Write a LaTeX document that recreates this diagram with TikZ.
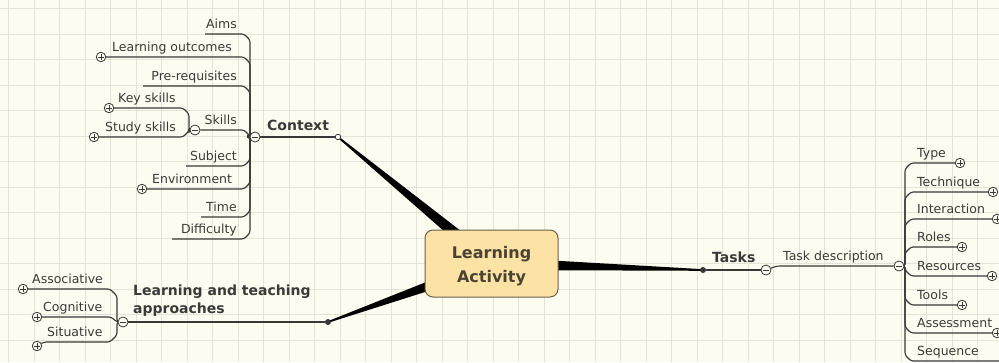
\documentclass[tikz,border=0pt]{standalone}
\usepackage{fontspec}
\setmainfont{DejaVu Sans}
\usetikzlibrary{calc}
\pgfdeclarelayer{back}
\pgfsetlayers{back,main}
\definecolor{bg}{HTML}{FCFCF0}
\definecolor{gridc}{HTML}{E4E4D6}
\definecolor{lc}{HTML}{383838}
\definecolor{tc}{HTML}{3A3A3A}
\definecolor{boxfill}{HTML}{FCE2A5}
\definecolor{boxdraw}{HTML}{6A614C}
\definecolor{boxtext}{HTML}{4A4232}
\begin{document}
\begin{tikzpicture}[x=1pt,y=-1pt,
  lbl/.style={font=\fontsize{12.5}{15}\selectfont, text=tc, inner sep=0pt},
  blbl/.style={font=\bfseries\fontsize{14}{18}\selectfont, text=tc, inner sep=0pt, align=left},
  ln/.style={draw=lc, line width=1.1pt, line join=round, rounded corners=2.5pt},
  pc/.style={circle, draw=lc, fill=bg, line width=0.8pt, minimum size=9.5pt, inner sep=0pt,
    path picture={\draw[lc, line width=0.8pt]
      ([xshift=-2.6pt]path picture bounding box.center) -- ([xshift=2.6pt]path picture bounding box.center)
      ([yshift=-2.6pt]path picture bounding box.center) -- ([yshift=2.6pt]path picture bounding box.center);}},
  mc/.style={circle, draw=lc, fill=bg, line width=0.8pt, minimum size=10pt, inner sep=0pt,
    path picture={\draw[lc, line width=0.8pt]
      ([xshift=-2.6pt]path picture bounding box.center) -- ([xshift=2.6pt]path picture bounding box.center);}},
  dotc/.style={circle, fill=lc, minimum size=6pt, inner sep=0pt},
  odot/.style={circle, draw=lc, fill=white, minimum size=5.5pt, inner sep=0pt, line width=0.8pt},
  box/.style={rectangle, rounded corners=8pt, draw=boxdraw, fill=boxfill, line width=1pt,
    minimum width=133pt, minimum height=67pt, inner sep=0pt},
  boxlbl/.style={font=\bfseries\fontsize{16}{24}\selectfont, text=boxtext, inner sep=0pt, align=center},
  taper/.style={fill=black}
]
\clip (0,0) rectangle (999,362);
\useasboundingbox (0,0) rectangle (999,362);

% ---------- nodes ----------
\node[box] (la) at (491.5,263.5) {};
\node[boxlbl, anchor=north] (latext) at (491.5,246) {Learning\\Activity};
\coordinate (lac) at (491.5,263.5);

% Context branch
\node[mc] (cctx) at (255,137) {};
\node[odot] (ctxend) at (338,137) {};
\node[blbl, anchor=base west] (tctx) at (267,130) {Context};
\node[lbl, anchor=base east] (taims) at (237,28) {Aims};
\node[pc] (clo) at (101,57) {};
\node[lbl, anchor=base west] (tlo) at (112,51) {Learning outcomes};
\node[lbl, anchor=base east] (tpre) at (237,80) {Pre-requisites};
\node[mc] (csk) at (195,130) {};
\node[lbl, anchor=base east] (tsk) at (237,124) {Skills};
\node[pc] (ckey) at (109,108) {};
\node[lbl, anchor=base west] (tkey) at (118,102) {Key skills};
\node[pc] (cstu) at (94,137) {};
\node[lbl, anchor=base west] (tstu) at (105,131) {Study skills};
\node[lbl, anchor=base east] (tsub) at (237,160) {Subject};
\node[pc] (cenv) at (142,189) {};
\node[lbl, anchor=base west] (tenv) at (152,183) {Environment};
\node[lbl, anchor=base east] (ttime) at (237,211) {Time};
\node[lbl, anchor=base east] (tdif) at (237,233) {Difficulty};

% Approaches branch
\node[mc] (cap) at (123,322) {};
\node[dotc] (dap) at (328,322) {};
\node[blbl, anchor=north west] (tap) at (133,284.4) {Learning and teaching\\approaches};
\node[pc] (cas) at (23,289) {};
\node[lbl, anchor=base west] (tas) at (32,283) {Associative};
\node[pc] (ccg) at (37,317) {};
\node[lbl, anchor=base west] (tcg) at (43,311) {Cognitive};
\node[pc] (csi) at (37,346) {};
\node[lbl, anchor=base west] (tsi) at (47,336) {Situative};

% Tasks branch
\node[dotc] (dtk) at (703,270) {};
\node[mc] (ctk) at (766,270) {};
\node[blbl, anchor=base west] (ttk) at (712,262) {Tasks};
\node[mc] (ctd) at (899,266) {};
\node[lbl, anchor=base west] (ttd) at (783,260) {Task description};
\node[pc] (ctype) at (960,163) {};
\node[lbl, anchor=base west] (ttype) at (917,157) {Type};
\node[pc] (ctech) at (993,192) {};
\node[lbl, anchor=base west] (ttech) at (917,186) {Technique};
\node[pc] (cint) at (997,219) {};
\node[lbl, anchor=base west] (tint) at (917,213) {Interaction};
\node[pc] (crol) at (962,247) {};
\node[lbl, anchor=base west] (trol) at (917,241) {Roles};
\node[pc] (cres) at (992,276) {};
\node[lbl, anchor=base west] (tres) at (917,270) {Resources};
\node[pc] (ctoo) at (962,305) {};
\node[lbl, anchor=base west] (ttoo) at (917,299) {Tools};
\node[pc] (cass) at (997,333) {};
\node[lbl, anchor=base west] (tass) at (917,327) {Assessment};
\node[lbl, anchor=base west] (tseq) at (917,355) {Sequence};
\coordinate (eseq) at (1010,361);

% ---------- background, grid, connectors ----------
\begin{pgfonlayer}{back}
\fill[bg] (0,0) rectangle (999,362);
\foreach \i in {0,...,39} \draw[gridc, line width=0.6pt] ({8.5+25.5*\i},0) -- ({8.5+25.5*\i},362);
\foreach \j in {0,...,14} \draw[gridc, line width=0.6pt] (0,{8.5+25.5*\j}) -- (999,{8.5+25.5*\j});

% tapered main connectors
\fill[taper] ($(lac)!7pt!90:(ctxend)$) -- ($(lac)!7pt!-90:(ctxend)$) -- ($(ctxend)!0.8pt!90:(lac)$) -- ($(ctxend)!0.8pt!-90:(lac)$) -- cycle;
\fill[taper] ($(lac)!7pt!90:(dap)$) -- ($(lac)!7pt!-90:(dap)$) -- ($(dap)!0.8pt!90:(lac)$) -- ($(dap)!0.8pt!-90:(lac)$) -- cycle;
\fill[taper] ($(lac)!6.5pt!90:(dtk)$) -- ($(lac)!6.5pt!-90:(dtk)$) -- ($(dtk)!0.8pt!90:(lac)$) -- ($(dtk)!0.8pt!-90:(lac)$) -- cycle;

% context
\draw[ln] (cctx) -- (ctxend);
\draw[ln] (205,34) -- (244,34) -- (250,40) -- (250,137) -- (cctx);
\draw[ln] (clo) -- (244,57) -- (250,63) -- (250,137) -- (cctx);
\draw[ln] (143,86) -- (244,86) -- (250,92) -- (250,137) -- (cctx);
\draw[ln] (csk) -- (244,130) -- (250,136) -- (cctx);
\draw[ln] (186,166) -- (244,166) -- (250,160) -- (250,137) -- (cctx);
\draw[ln] (cenv) -- (244,189) -- (250,183) -- (250,137) -- (cctx);
\draw[ln] (201,217) -- (244,217) -- (250,211) -- (250,137) -- (cctx);
\draw[ln] (172,239) -- (244,239) -- (250,233) -- (250,137) -- (cctx);
\draw[ln] (ckey) -- (183,108) -- (189,114) -- (189,130) -- (csk);
\draw[ln] (cstu) -- (183,137) -- (189,131) -- (189,130) -- (csk);

% approaches
\draw[ln] (cap) -- (dap);
\draw[ln] (cas) -- (110,289) -- (117,296) -- (117,322) -- (cap);
\draw[ln] (ccg) -- (111,317) -- (117,322) -- (cap);
\draw[ln] (csi) -- (44,342) -- (110,342) -- (117,335) -- (117,322) -- (cap);

% tasks
\draw[ln] (dtk) -- (ctk);
\draw[ln] (ctk) -- (777,266) -- (ctd);
\draw[ln] (ctd) -- (905,266) -- (905,169) -- (911,163) -- (ctype);
\draw[ln] (ctd) -- (905,266) -- (905,198) -- (911,192) -- (ctech);
\draw[ln] (ctd) -- (905,266) -- (905,225) -- (911,219) -- (cint);
\draw[ln] (ctd) -- (905,266) -- (905,253) -- (911,247) -- (crol);
\draw[ln] (ctd) -- (905,266) -- (905,270) -- (911,276) -- (cres);
\draw[ln] (ctd) -- (905,266) -- (905,299) -- (911,305) -- (ctoo);
\draw[ln] (ctd) -- (905,266) -- (905,327) -- (911,333) -- (cass);
\draw[ln] (ctd) -- (905,266) -- (905,355) -- (911,361) -- (eseq);
\end{pgfonlayer}
\end{tikzpicture}
\end{document}
